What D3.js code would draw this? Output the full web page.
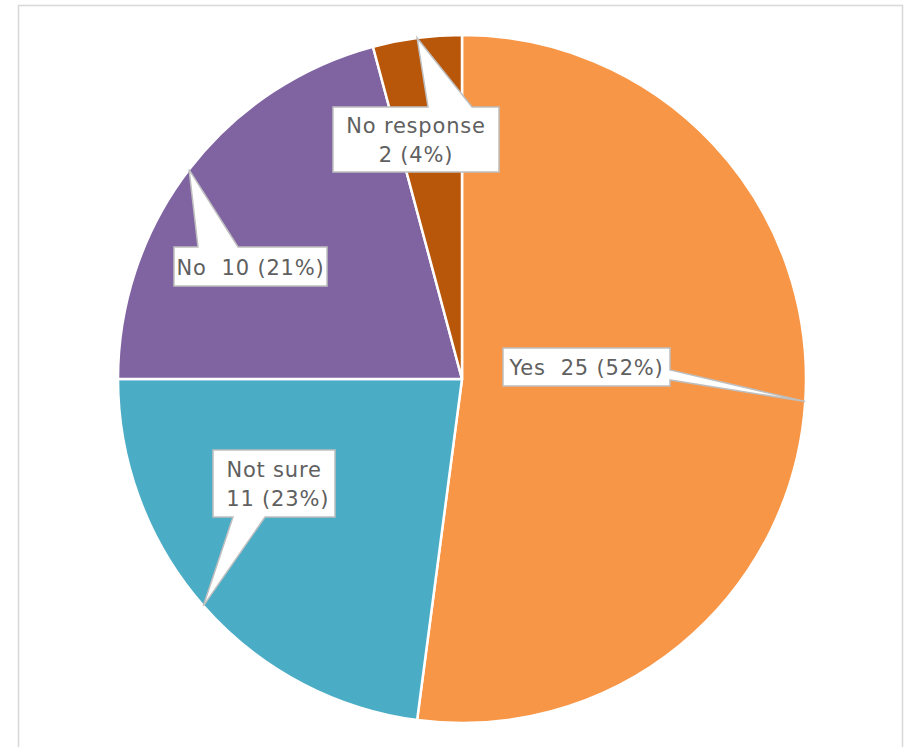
<!DOCTYPE html>
<html>
<head>
<meta charset="utf-8">
<script src="https://cdn.jsdelivr.net/npm/d3@7"></script>
<style>
  html, body { margin: 0; padding: 0; background: #fff; }
  svg text { white-space: pre; }
</style>
</head>
<body>
<svg id="chart" width="904" height="747"></svg>
<script>
// ---- data ----
const categories = ["Yes", "Not sure", "No", "No response"];
const values = [25, 11, 10, 2];
const colors = ["#F79646", "#4BACC6", "#8064A2", "#B8560A"];
const labelLines = [
  ["Yes  25 (52%)"],
  ["Not sure", " 11 (23%)"],
  ["No  10 (21%)"],
  ["No response", "2 (4%)"]
];

// ---- layout ----
const W = 904, H = 747;
const cx = 462, cy = 379, R = 344;
// callout boxes: [x0, y0, x1, y1], pointer side and base span along that side
const boxes = [
  { box: [503, 348, 670, 386], side: "right", base: [370, 380] },
  { box: [213, 450, 335, 517], side: "bottom", base: [233, 265] },
  { box: [174, 247, 327, 286], side: "top", base: [198, 238] },
  { box: [333, 107, 499, 172], side: "top", base: [428, 472] }
];

const svg = d3.select("#chart");

svg.append("rect")
  .attr("x", 18.5).attr("y", 5.5)
  .attr("width", 884).attr("height", 800)
  .attr("fill", "#fff")
  .attr("stroke", "#d9d9d9").attr("stroke-width", 1.6);

const pie = d3.pie().sort(null).value(d => d)(values);
const arc = d3.arc().innerRadius(0).outerRadius(R);

const g = svg.append("g").attr("transform", `translate(${cx},${cy})`);
g.selectAll("path.slice").data(pie).enter().append("path")
  .attr("class", "slice")
  .attr("d", arc)
  .attr("fill", (d, i) => colors[i])
  .attr("stroke", "#fff").attr("stroke-width", 2.5)
  .attr("stroke-linejoin", "round");

// callouts
pie.forEach((d, i) => {
  const mid = (d.startAngle + d.endAngle) / 2;
  const tx = cx + R * Math.sin(mid);
  const ty = cy - R * Math.cos(mid);
  const b = boxes[i];
  const [x0, y0, x1, y1] = b.box;
  let p;
  if (b.side === "top") {
    p = [[x0, y0], [b.base[0], y0], [tx, ty], [b.base[1], y0], [x1, y0], [x1, y1], [x0, y1]];
  } else if (b.side === "bottom") {
    p = [[x0, y0], [x1, y0], [x1, y1], [b.base[1], y1], [tx, ty], [b.base[0], y1], [x0, y1]];
  } else {
    p = [[x0, y0], [x1, y0], [x1, b.base[0]], [tx, ty], [x1, b.base[1]], [x1, y1], [x0, y1]];
  }
  svg.append("path")
    .attr("d", d3.line()(p) + "Z")
    .attr("fill", "#fff")
    .attr("stroke", "#BFBFBF").attr("stroke-width", 1.5)
    .attr("stroke-linejoin", "miter");

  const lines = labelLines[i];
  const lh = 29;
  const midY = (y0 + y1) / 2;
  const t = svg.append("text")
    .attr("text-anchor", "middle")
    .attr("font-family", "'DejaVu Sans', sans-serif")
    .attr("font-size", 21)
    .attr("letter-spacing", 0.8)
    .attr("fill", "#606060");
  lines.forEach((ln, k) => {
    t.append("tspan")
      .attr("x", (x0 + x1) / 2)
      .attr("y", midY + (k - (lines.length - 1) / 2) * lh + 8)
      .text(ln);
  });
});
</script>
</body>
</html>
